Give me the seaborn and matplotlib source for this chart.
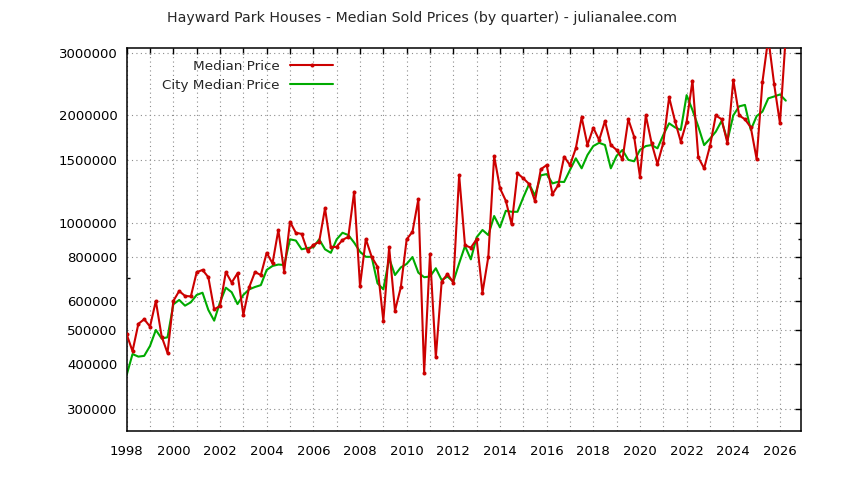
import numpy as np
import pandas as pd
import seaborn as sns
import matplotlib
import matplotlib.pyplot as plt
from matplotlib.ticker import FixedLocator, FixedFormatter, NullFormatter, MultipleLocator, FuncFormatter

matplotlib.use('Agg')

# quarterly data, first quarter of 1998 onwards
start_year = 1998

median_price = [
    485000, 435000, 519000, 535000, 510000, 602000, 478000, 430000,
    602000, 642000, 622000, 620000, 725000, 736000, 702000, 570000,
    583000, 726000, 678000, 720000, 550000, 658000, 726000, 712000,
    822000, 768000, 952000, 727000, 1005000, 936000, 929000, 832000,
    865000, 883000, 1096000, 852000, 855000, 893000, 912000, 1220000,
    663000, 899000, 801000, 751000, 530000, 852000, 565000, 658000,
    897000, 942000, 1162000, 379000, 815000, 418000, 682000, 717000,
    678000, 1358000, 863000, 850000, 897000, 635000, 801000, 1538000,
    1248000, 1151000, 988000, 1375000, 1331000, 1283000, 1149000, 1411000,
    1450000, 1202000, 1275000, 1531000, 1450000, 1616000, 1975000, 1651000,
    1846000, 1705000, 1928000, 1651000, 1599000, 1505000, 1950000, 1742000,
    1344000, 2000000, 1669000, 1460000, 1675000, 2248000, 1930000, 1687000,
    1920000, 2502000, 1524000, 1420000, 1640000, 2000000, 1950000, 1669000,
    2514000, 2000000, 1950000, 1851000, 1508000, 2486000, 3300000, 2450000,
    1900000, 3350000,
]

city_median_price = [
    373000, 427000, 420000, 422000, 450000, 499000, 472000, 476000,
    589000, 606000, 584000, 597000, 626000, 635000, 568000, 530000,
    597000, 656000, 637000, 590000, 626000, 649000, 659000, 667000,
    736000, 755000, 762000, 760000, 897000, 890000, 841000, 848000,
    852000, 897000, 841000, 822000, 897000, 936000, 922000, 878000,
    828000, 801000, 801000, 675000, 649000, 793000, 712000, 748000,
    765000, 800000, 723000, 702000, 705000, 744000, 689000, 705000,
    682000, 768000, 859000, 788000, 909000, 953000, 922000, 1043000,
    969000, 1079000, 1072000, 1072000, 1177000, 1283000, 1190000, 1357000,
    1368000, 1288000, 1302000, 1300000, 1405000, 1515000, 1420000, 1548000,
    1640000, 1675000, 1651000, 1420000, 1540000, 1599000, 1500000, 1486000,
    1600000, 1640000, 1651000, 1616000, 1762000, 1900000, 1851000, 1820000,
    2280000, 2070000, 1860000, 1650000, 1720000, 1800000, 1930000, 1700000,
    2000000, 2120000, 2140000, 1820000, 1990000, 2050000, 2233000, 2260000,
    2290000, 2200000,
]

y_ticks = [300000, 400000, 500000, 600000, 800000, 1000000, 1500000, 2000000, 3000000]
y_minor_ticks = [700000, 900000]

title = "Hayward Park Houses - Median Sold Prices (by quarter) - julianalee.com"

quarter = start_year + np.arange(len(median_price)) / 4
df = pd.DataFrame({
    'quarter': quarter,
    'Median Price': median_price,
    'City Median Price': city_median_price,
})

sns.set_style('white')
plt.rcParams['font.family'] = ['DejaVu Sans']
plt.rcParams['ytick.minor.visible'] = False

fig = plt.figure(figsize=(8.44, 4.80), dpi=100)
ax = fig.add_axes([0.1501, 0.1021, 0.949 - 0.1501, 0.8994 - 0.1021])

sns.lineplot(data=df, x='quarter', y='Median Price', ax=ax, color='#cc0000',
             linewidth=1.5, marker='o', markersize=2.9, markeredgewidth=0,
             label='Median Price', zorder=3)
sns.lineplot(data=df, x='quarter', y='City Median Price', ax=ax, color='#00aa00',
             linewidth=1.5, label='City Median Price', zorder=2)

ax.set_yscale('log')
ax.set_xlim(1998, 2026.9)
ax.set_ylim(259600, 3087000)

ax.yaxis.set_major_locator(FixedLocator(y_ticks))
ax.yaxis.set_major_formatter(FixedFormatter([str(v) for v in y_ticks]))
ax.yaxis.set_minor_locator(FixedLocator(y_minor_ticks))
ax.yaxis.set_minor_formatter(NullFormatter())

ax.xaxis.set_major_locator(MultipleLocator(1))
ax.xaxis.set_major_formatter(FuncFormatter(lambda v, p: f"{int(round(v))}" if int(round(v)) % 2 == 0 else ""))

ax.set_xlabel('')
ax.set_ylabel('')

ax.grid(True, which='major', linestyle=(0, (1, 3)), color='#8c8c8c', linewidth=0.8)
ax.tick_params(axis='both', which='major', direction='in', length=4.5, width=1,
               top=True, right=True, labelsize=9.5, colors='black')
ax.tick_params(axis='y', which='major', pad=6.5)
ax.tick_params(axis='x', which='major', pad=10)
ax.yaxis.set_tick_params(which='minor', direction='in', length=2.5, width=1,
                         left=True, right=True, color='black')

for s in ax.spines.values():
    s.set_visible(True)
    s.set_color('black')
    s.set_linewidth(1.1)

leg = ax.legend(loc='upper left', bbox_to_anchor=(0.043, 0.987), frameon=False,
                markerfirst=False, fontsize=9.7, handlelength=3.2,
                handletextpad=0.75, labelspacing=0.42, borderpad=0)

fig.text(0.5, 0.9625, title, ha='center', va='center', fontsize=10.2)

fig.savefig('out.png', dpi=100)
